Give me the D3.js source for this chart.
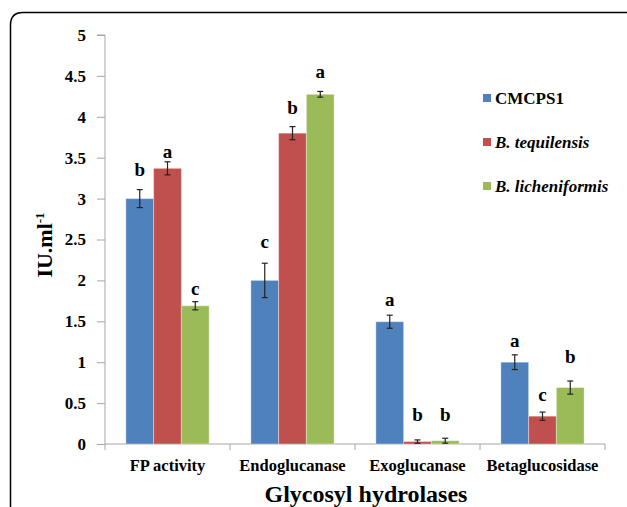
<!DOCTYPE html>
<html>
<head>
<meta charset="utf-8">
<script src="https://cdn.jsdelivr.net/npm/d3@7"></script>
<style>
  html, body { margin: 0; padding: 0; background: #fff; }
  svg { display: block; }
  svg text { font-family: "Liberation Serif", "Times New Roman", serif !important; font-weight: bold; fill: #000; }
</style>
</head>
<body>
<svg id="chart" width="627" height="507"></svg>
<script>
// ---- data ----
const categories = ["FP activity", "Endoglucanase", "Exoglucanase", "Betaglucosidase"];
const seriesNames = ["CMCPS1", "B. tequilensis", "B. licheniformis"];
const cmcps1 = [3.00, 2.00, 1.495, 1.00];
const tequilensis = [3.37, 3.80, 0.03, 0.34];
const licheniformis = [1.69, 4.275, 0.04, 0.69];
const cmcps1Err = [0.11, 0.21, 0.08, 0.09];
const tequilensisErr = [0.08, 0.08, 0.02, 0.05];
const licheniformisErr = [0.05, 0.035, 0.03, 0.08];
const cmcps1Letters = ["b", "c", "a", "a"];
const tequilensisLetters = ["a", "b", "b", "c"];
const licheniformisLetters = ["c", "a", "b", "b"];
// letter baseline heights (IU.ml-1 units)
const cmcps1LetterAt = [3.28, 2.40, 1.69, 1.18];
const tequilensisLetterAt = [3.50, 4.03, 0.285, 0.52];
const licheniformisLetterAt = [1.82, 4.48, 0.285, 0.99];
const yTicks = [0, 0.5, 1, 1.5, 2, 2.5, 3, 3.5, 4, 4.5, 5];
const yTickLabels = ["0", "0.5", "1", "1.5", "2", "2.5", "3", "3.5", "4", "4.5", "5"];

const seriesValues = [cmcps1, tequilensis, licheniformis];
const seriesErr = [cmcps1Err, tequilensisErr, licheniformisErr];
const seriesLetters = [cmcps1Letters, tequilensisLetters, licheniformisLetters];
const seriesLetterAt = [cmcps1LetterAt, tequilensisLetterAt, licheniformisLetterAt];
const colors = ["#4f81bd", "#c0504d", "#9bbb59"];

const svg = d3.select("#chart");

// outer frame with rounded top-left corner
svg.append("path")
  .attr("d", "M10.5,507 L10.5,25 Q10.5,12.5 23,12.5 L627,12.5")
  .attr("fill", "none").attr("stroke", "#000").attr("stroke-width", 1.5);

const x0 = 105, x1 = 605, yTop = 35, yBot = 444;
const y = d3.scaleLinear().domain([0, 5]).range([yBot, yTop]);
const xCat = d3.scaleBand().domain(categories).range([x0, x1]).padding(0);
const xSer = d3.scaleBand().domain(seriesNames)
  .range([xCat.bandwidth() * 0.167, xCat.bandwidth() * 0.833]).padding(0);

// y axis
const yAxis = d3.axisLeft(y).tickValues(yTicks)
  .tickFormat((d, i) => yTickLabels[i]).tickSize(8).tickPadding(11);
const gy = svg.append("g").attr("transform", `translate(${x0},0)`).call(yAxis);
gy.attr("font-family", null);
gy.select(".domain").attr("stroke", "#a6a6a6").attr("d", `M-8,${yTop}H0V${yBot}`);
gy.selectAll(".tick line").attr("stroke", "#a6a6a6");
gy.selectAll(".tick text").style("font-size", "17px");

// x axis
const gx = svg.append("g").attr("transform", `translate(0,${yBot})`);
gx.append("line").attr("x1", x0).attr("x2", x1).attr("y1", 0).attr("y2", 0).attr("stroke", "#a6a6a6");
const bounds = categories.map(c => xCat(c)).concat([x1]);
gx.selectAll("line.tk").data(bounds).join("line").attr("class", "tk")
  .attr("x1", d => d).attr("x2", d => d).attr("y1", 0).attr("y2", 6).attr("stroke", "#a6a6a6");
gx.selectAll("text").data(categories).join("text")
  .attr("x", d => xCat(d) + xCat.bandwidth() / 2).attr("y", 27)
  .attr("text-anchor", "middle").style("font-size", "16.5px")
  .text(d => d);

// bars
seriesNames.forEach((s, si) => {
  const g = svg.append("g");
  const vals = seriesValues[si];
  g.selectAll("rect").data(vals).join("rect")
    .attr("x", (d, i) => xCat(categories[i]) + xSer(s))
    .attr("y", d => y(d))
    .attr("width", xSer.bandwidth())
    .attr("height", d => y(0) - y(d))
    .attr("fill", colors[si])
    .attr("stroke", "#fff").attr("stroke-opacity", 0.35).attr("stroke-width", 1);
  // error bars
  vals.forEach((v, i) => {
    const cx = xCat(categories[i]) + xSer(s) + xSer.bandwidth() / 2;
    const e = seriesErr[si][i];
    const lo = Math.max(0, v - e), hi = v + e;
    g.append("line").attr("x1", cx).attr("x2", cx).attr("y1", y(lo)).attr("y2", y(hi))
      .attr("stroke", "#222").attr("stroke-width", 1.2);
    [lo, hi].forEach(t => g.append("line").attr("x1", cx - 3).attr("x2", cx + 3)
      .attr("y1", y(t)).attr("y2", y(t)).attr("stroke", "#222").attr("stroke-width", 1.2));
    g.append("text").attr("x", cx).attr("y", y(seriesLetterAt[si][i]))
      .attr("text-anchor", "middle").style("font-size", "19px")
      .text(seriesLetters[si][i]);
  });
});

// legend
const legendY = [98, 142, 186];
seriesNames.forEach((s, si) => {
  svg.append("rect").attr("x", 483).attr("y", legendY[si] - 4).attr("width", 8).attr("height", 8)
    .attr("fill", colors[si]);
  svg.append("text").attr("x", 495).attr("y", legendY[si] + 5.5)
    .style("font-size", "17px")
    .style("font-style", si === 0 ? "normal" : "italic").text(s);
});

// y axis title
svg.append("text").attr("transform", "translate(52,245) rotate(-90)")
  .attr("text-anchor", "middle").style("font-size", "22px")
  .call(t => {
    t.append("tspan").text("IU.ml");
    t.append("tspan").attr("dy", -8).style("font-size", "13px").text("-1");
  });

// x axis title
svg.append("text").attr("x", 366).attr("y", 502).attr("text-anchor", "middle")
  .style("font-size", "24px").text("Glycosyl hydrolases");
</script>
</body>
</html>
